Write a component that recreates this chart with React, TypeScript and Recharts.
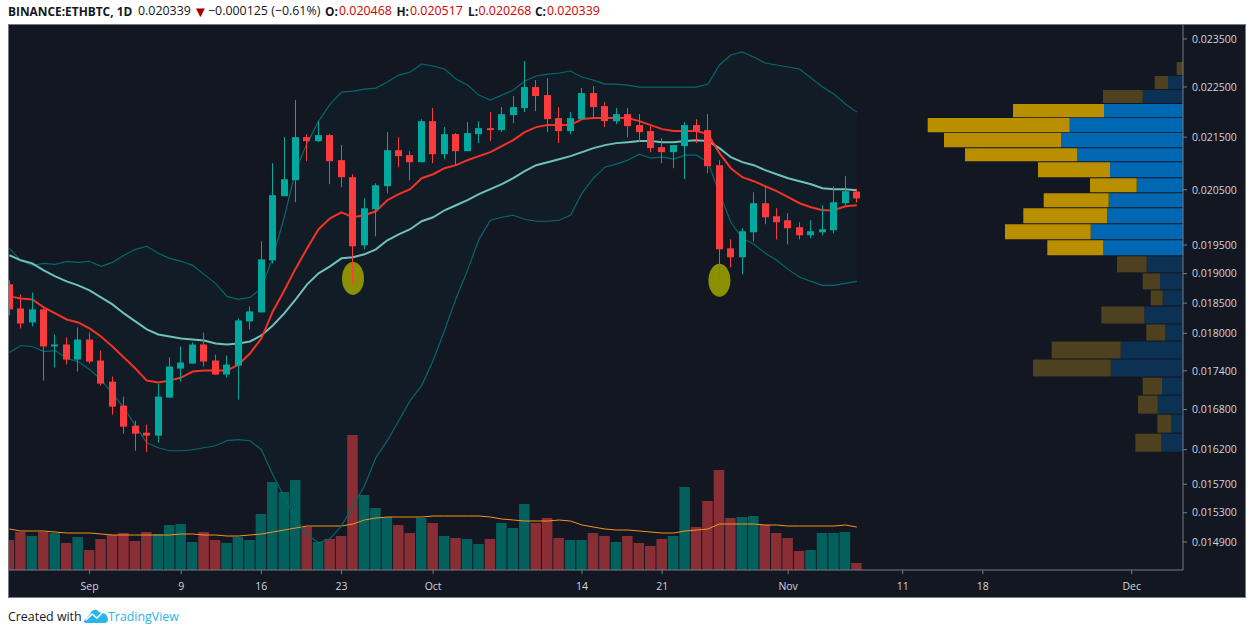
import React from "react";
import { ComposedChart, Bar, Line, Area, XAxis, YAxis, ReferenceArea, ReferenceDot, Cell } from "recharts";

const highs = [.018885,.018646,.01868,.018411,.017982,.017933,.018097,.018014,.017722,.017309,.016998,.016631,.016571,.017199,.01761,.017787,.017852,.018014,.017658,.017642,.018245,.018445,.019565,.021,.021501,.022235,.02156,.021815,.02156,.021346,.020791,.020344,.020622,.021599,.021501,.02123,.021855,.022074,.021697,.02158,.021796,.021815,.021994,.022095,.022316,.023036,.022642,.022683,.022095,.021994,.022479,.02252,.022195,.022074,.022074,.021954,.021717,.021482,.021346,.021796,.021855,.021954,.021057,.0196,.019798,.020455,.020566,.02016,.020069,.019906,.019942,.020215,.020566,.020754,.020517];
const opens = [.018817,.018411,.018179,.018395,.017787,.017819,.017578,.0179,.017562,.01723,.01686,.016556,.016451,.016407,.016982,.017435,.017514,.017819,.017562,.01734,.017482,.018196,.018345,.019231,.020381,.020678,.021501,.021424,.021541,.021057,.020735,.019494,.020141,.020566,.021249,.021153,.021019,.021815,.021172,.02156,.02123,.02156,.021677,.021638,.021934,.022074,.022499,.022336,.021875,.021619,.021855,.022377,.022115,.021815,.021954,.021737,.021619,.021307,.021211,.021327,.021737,.021638,.020962,.019441,.019284,.019726,.020252,.020014,.019942,.019816,.019672,.019726,.019762,.020252,.020468];
const closes = [.018395,.018162,.018395,.017787,.017819,.017578,.0179,.017546,.017199,.016844,.016541,.016436,.016407,.016998,.017467,.01753,.017819,.017546,.01734,.017498,.018212,.018362,.019248,.0204,.020697,.021501,.021424,.021541,.021038,.020735,.019477,.02016,.020585,.021249,.021134,.021019,.021815,.021172,.02156,.02123,.02158,.021677,.021638,.021954,.022095,.022499,.022316,.021855,.021619,.021875,.022377,.022095,.021815,.021954,.021717,.021599,.021288,.021211,.021346,.021737,.021619,.020943,.019424,.019284,.019744,.020252,.019996,.019906,.019798,.019672,.019744,.01978,.02027,.020474,.020339];
const lows = [.018295,.01808,.018113,.017246,.017451,.017498,.017387,.017514,.017168,.016722,.016436,.016184,.016169,.016302,.016982,.01723,.017514,.017467,.01734,.017293,.016951,.018064,.018345,.019179,.020381,.02027,.021038,.021404,.020604,.020548,.018817,.019424,.019655,.020437,.020924,.020678,.021019,.021,.021076,.020962,.02123,.021385,.021424,.021599,.021776,.021994,.022014,.021599,.021385,.02156,.021855,.021855,.021697,.021757,.021501,.021404,.021211,.021,.020905,.020697,.021385,.02081,.018868,.019109,.018988,.019565,.01987,.0196,.019512,.0196,.019619,.019672,.019708,.020215,.020268];
const bandUpper = [.019441,.019231,.019144,.019179,.019161,.019214,.019196,.019214,.019127,.019196,.019319,.019424,.019477,.019354,.019266,.019214,.019144,.018988,.018834,.018613,.018562,.018596,.018748,.019284,.019996,.020867,.021385,.021815,.022155,.022397,.022418,.022458,.022479,.022601,.022745,.022807,.022974,.022932,.02287,.022663,.02254,.022336,.022235,.022336,.022438,.022622,.022725,.022766,.022787,.022828,.022704,.022642,.02256,.02256,.02254,.022499,.022499,.022499,.022499,.022499,.022499,.02256,.022953,.023161,.023225,.02312,.022995,.022953,.022911,.02287,.022683,.022499,.022357,.022155,.021994];
const bandLower = [.01769,.017803,.017787,.017706,.017722,.017594,.017546,.017419,.017262,.017044,.016829,.016556,.016302,.016228,.016184,.016184,.016199,.016228,.016258,.016332,.016347,.016332,.016199,.015835,.015522,.015217,.014998,.014889,.014943,.01512,.015396,.015678,.016082,.016332,.016631,.016936,.017168,.017562,.018047,.018579,.019057,.0196,.019942,.019996,.020032,.01996,.019924,.019924,.019942,.020032,.020437,.020716,.020924,.020981,.021057,.021172,.021095,.021114,.021076,.021153,.021153,.021019,.020437,.019906,.019619,.019512,.019354,.019231,.019074,.018937,.018868,.0188,.0188,.018834,.018868];
const slowAverage = [.019319,.019231,.019179,.019057,.018954,.018868,.0188,.018714,.018596,.018478,.018328,.018196,.018064,.017982,.017949,.017916,.0179,.017884,.017835,.017819,.017835,.017868,.017966,.018129,.018328,.018562,.018817,.019005,.019127,.019266,.019284,.019336,.019424,.019583,.01969,.01978,.019924,.019996,.020123,.020215,.020307,.020418,.020511,.020604,.020716,.020848,.020962,.021019,.021076,.021134,.021211,.021288,.021346,.021385,.021404,.021424,.021424,.021404,.021404,.021424,.021443,.021424,.021288,.021114,.021019,.020962,.020867,.020791,.020716,.02066,.020604,.020529,.020511,.020511,.020492];
const fastAverage = [.018613,.018579,.018562,.018428,.018328,.018228,.018179,.01808,.017949,.017787,.01761,.017435,.017246,.017215,.017246,.017293,.017387,.017403,.017403,.017403,.017498,.017674,.017916,.018361,.018714,.019091,.019441,.01978,.019978,.020087,.019996,.020032,.020105,.020307,.020418,.020511,.020716,.020791,.020905,.020962,.021057,.021134,.021211,.021327,.021443,.021599,.021697,.021737,.021737,.021737,.021855,.021875,.021875,.021875,.021875,.021815,.021737,.021658,.021619,.021619,.021619,.02156,.021192,.020905,.020735,.02066,.020566,.020474,.020362,.020252,.020178,.020123,.020123,.020197,.020215];
const volumes = [30,38,34,38,37,27,33,20,31,35,37,29,38,36,45,46,28,38,30,27,33,30,56,88,78,90,43,28,31,34,135,75,62,53,45,37,52,47,34,32,31,26,31,47,42,66,47,52,32,30,30,37,34,28,34,27,24,31,34,83,43,69,100,52,53,54,45,37,32,19,20,37,37,38,7];
const volumeAverage = [41,39,39,39,38,37,37,37,36,35,35,35,35,35,35,36,36,35,35,34,34,35,36,38,40,42,44,44,44,44,46,50,52,53,53,53,53,54,54,54,54,54,53,51,50,49,49,49,50,49,45,43,41,40,40,39,38,37,37,39,40,41,46,46,46,46,45,45,44,44,44,44,44,45,43];

const profileTops = [.023015,.022725,.022438,.022155,.021875,.02158,.021288,.021019,.020716,.020437,.02016,.01987,.019583,.019301,.019005,.018714,.018445,.018146,.017868,.017578,.017293,.017013,.016722,.016436];
const profileBottoms = [.022745,.022458,.022175,.021894,.021599,.021307,.021038,.020735,.020455,.020178,.019888,.0196,.019319,.019023,.018731,.018462,.018162,.017884,.017594,.017309,.017028,.016737,.016451,.016169];
const profileBuy = [0,15,40.3,79,113.3,122,105.7,73,46.3,74.3,76,92.3,79.7,36.3,23,20.3,38.7,17.7,62.3,72.3,21,25.3,11.7,21.7];
const profileSell = [6.3,13.3,39.7,91,142,117,112.3,72,46.7,65,83.7,85.7,56,29.7,17.3,12,43,19,69,77.7,19.3,19.7,14,26];
const valueAreaFirst = 3;
const valueAreaLast = 12;

const priceTicks = [.0235,.0225,.0215,.0205,.0195,.019,.0185,.018,.0174,.0168,.0162,.0157,.0153,.0149];
const dayTicks = [7,15,22,29,37,50,57,68,78,85,98];
const dayLabels = ["Sep","9","16","23","Oct","14","21","Nov","11","18","Dec"];
const markers = [{ day: 30, price: .018919 }, { day: 62, price: .018885 }];

const rows = volumes.map((volume, i) => ({
  day: i, open: opens[i], high: highs[i], low: lows[i], close: closes[i],
  upper: bandUpper[i], lower: bandLower[i], slow: slowAverage[i], fast: fastAverage[i],
  volume, volumeMa: volumeAverage[i],
}));

const UP = "#00a99d";
const DOWN = "#fc3b3f";
const FONT = "'Open Sans', sans-serif";
const INK = "#131722";
const LOSS = "#d00000";

function Candle(props: any) {
  const { x, y, width, height, payload } = props;
  const { open, close, high, low } = payload;
  const toY = (p: number) => y + height * Math.log(high / p) / Math.log(high / low);
  const color = close >= open ? UP : DOWN;
  const left = Math.round(x + width / 2 - 3.5);
  const top = toY(Math.max(open, close));
  const bottom = toY(Math.min(open, close));
  return (
    <g>
      <rect x={left + 3} y={y} width={1} height={height} fill={color} />
      <rect x={left} y={top} width={7} height={Math.max(bottom - top, 1.5)} fill={color} />
    </g>
  );
}

const Marker = (props: any) => <ellipse cx={props.cx} cy={props.cy} rx={11} ry={16.5} fill="#8a9000" />;

const axisText = { fill: "#d1d4dc", fontSize: 10.5, fontFamily: FONT };

function Label({ left, top, color = INK, bold = false, size = 12.4, children }: any) {
  return (
    <div style={{ position: "absolute", left, top, fontFamily: FONT, fontSize: size, color, fontWeight: bold ? 700 : 400, lineHeight: "18px", whiteSpace: "nowrap" }}>
      {children}
    </div>
  );
}

export default function App() {
  return (
    <div style={{ position: "absolute", left: 0, top: 0, width: 1256, height: 629, background: "#fff", overflow: "hidden" }}>
      <Label left={8} top={2} bold size={11.9}>BINANCE:ETHBTC, 1D</Label>
      <Label left={138} top={2}>0.020339</Label>
      <Label left={193} top={2} size={15} color="#a30000">▼</Label>
      <Label left={208} top={2}>−0.000125 (−0.61%)</Label>
      <Label left={325} top={2} bold size={11.9}>O:</Label>
      <Label left={339} top={2} color={LOSS}>0.020468</Label>
      <Label left={396.5} top={2} bold size={11.9}>H:</Label>
      <Label left={410} top={2} color={LOSS}>0.020517</Label>
      <Label left={468} top={2} bold size={11.9}>L:</Label>
      <Label left={478.5} top={2} color={LOSS}>0.020268</Label>
      <Label left={535} top={2} bold size={11.9}>C:</Label>
      <Label left={547} top={2} color={LOSS}>0.020339</Label>
      <div style={{ position: "absolute", left: 8, top: 24, width: 1238, height: 574, boxSizing: "border-box", border: "1px solid #787b86", background: "#131722" }}>
        <ComposedChart width={1236} height={572} data={rows} margin={{ top: 0, right: 0, bottom: 0, left: 0 }}>
          <XAxis xAxisId="main" dataKey="day" type="number" domain={[-0.035, 102.48]} allowDataOverflow ticks={dayTicks} interval={0}
            tickFormatter={(d: number) => dayLabels[dayTicks.indexOf(d)]} height={27} tickSize={4} tickMargin={9}
            axisLine={{ stroke: "#787b86" }} tickLine={{ stroke: "#787b86" }} tick={axisText} />
          <XAxis xAxisId="vol" dataKey="day" type="number" domain={[-0.035, 102.48]} allowDataOverflow hide />
          <XAxis xAxisId="profile" dataKey="day" type="number" domain={[0, 1174]} allowDataOverflow reversed hide />
          <YAxis yAxisId="price" orientation="right" scale="log" domain={[0.014527, 0.0238]} allowDataOverflow ticks={priceTicks} interval={0}
            tickFormatter={(p: number) => p.toFixed(6)} width={62} tickSize={4} tickMargin={5}
            axisLine={{ stroke: "#787b86" }} tickLine={{ stroke: "#787b86" }} tick={axisText} />
          <YAxis yAxisId="volume" orientation="left" domain={[0, 545]} allowDataOverflow hide />

          <Area xAxisId="main" yAxisId="price" dataKey={(d: any) => [d.lower, d.upper]} type="linear" stroke="none" fill="#121c26" fillOpacity={1} isAnimationActive={false} dot={false} activeDot={false} />
          <Bar xAxisId="vol" yAxisId="volume" dataKey="volume" barSize={10.5} isAnimationActive={false}>
            {rows.map((r) => <Cell key={r.day} fill={r.close >= r.open ? "#02615d" : "#8a2e36"} />)}
          </Bar>
          <Line xAxisId="vol" yAxisId="volume" dataKey="volumeMa" type="linear" stroke="#f7931e" strokeWidth={1} dot={false} activeDot={false} isAnimationActive={false} />
          <Line xAxisId="main" yAxisId="price" dataKey="upper" type="linear" stroke="#006a6b" strokeWidth={1.2} dot={false} activeDot={false} isAnimationActive={false} />
          <Line xAxisId="main" yAxisId="price" dataKey="lower" type="linear" stroke="#006a6b" strokeWidth={1.2} dot={false} activeDot={false} isAnimationActive={false} />
          <Line xAxisId="main" yAxisId="price" dataKey="slow" type="linear" stroke="#6fc2ba" strokeWidth={2} dot={false} activeDot={false} isAnimationActive={false} />
          <Line xAxisId="main" yAxisId="price" dataKey="fast" type="linear" stroke="#f23325" strokeWidth={2} dot={false} activeDot={false} isAnimationActive={false} />
          {markers.map((m) => (
            <ReferenceDot key={m.day} xAxisId="main" yAxisId="price" x={m.day} y={m.price} r={11} shape={Marker} ifOverflow="visible" />
          ))}
          <Bar xAxisId="main" yAxisId="price" dataKey={(d: any) => [d.low, d.high]} barSize={7} shape={Candle} isAnimationActive={false} {...({ zIndex: 700 } as any)} />

          {profileBuy.map((buy, i) => {
            const strong = i >= valueAreaFirst && i <= valueAreaLast;
            return (
              <React.Fragment key={i}>
                {buy > 0 && <ReferenceArea xAxisId="profile" yAxisId="price" x1={0} x2={buy} y1={profileBottoms[i]} y2={profileTops[i]} fill={strong ? "#0067b3" : "#0d3153"} fillOpacity={1} stroke="none" ifOverflow="visible" />}
                <ReferenceArea xAxisId="profile" yAxisId="price" x1={buy} x2={buy + profileSell[i]} y1={profileBottoms[i]} y2={profileTops[i]} fill={strong ? "#b98f00" : "#4d411f"} fillOpacity={1} stroke="none" ifOverflow="visible" />
              </React.Fragment>
            );
          })}
        </ComposedChart>
      </div>
      <Label left={8} top={608}>Created with</Label>
      <svg style={{ position: "absolute", left: 84, top: 608 }} width={24} height={16} viewBox="0 0 24 16">
        <path d="M0 13 L6 6 Q8 1 13 2 Q15 5 18 5 Q23 5 24 11 Q24 15 20 15 L3 15 Q0 15 0 13 Z" fill="#2ab4ea" />
        <path d="M2 12 L8 6 L13 10 L18 5" fill="none" stroke="#fff" strokeWidth={1.6} />
      </svg>
      <Label left={108} top={608} color="#2ab4ea">TradingView</Label>
    </div>
  );
}
